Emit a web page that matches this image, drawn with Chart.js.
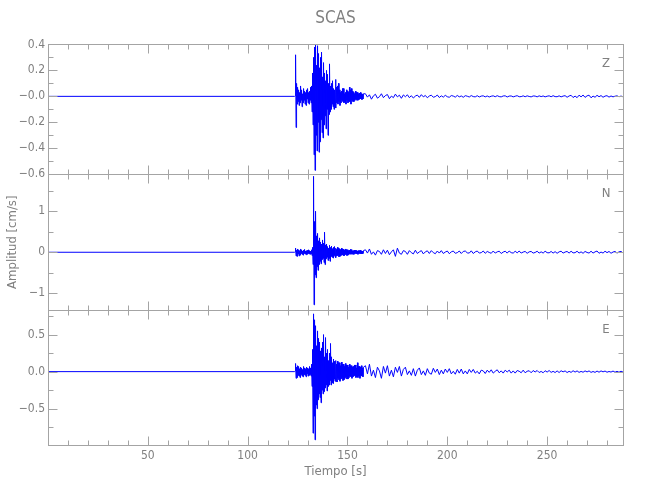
<!DOCTYPE html>
<html>
<head>
<meta charset="utf-8">
<title>SCAS</title>
<script src="https://cdn.jsdelivr.net/npm/chart.js@4.4.1/dist/chart.umd.min.js"></script>
<style>
  html, body { margin: 0; padding: 0; background: #fff; }
</style>
</head>
<body>
<canvas id="seis" width="650" height="500"></canvas>
<script>
// axis ticks and labels
var xTicks = [50, 100, 150, 200, 250];
var zTicks = [-0.6, -0.4, -0.2, 0, 0.2, 0.4];
var zLabels = ['\u22120.6', '\u22120.4', '\u22120.2', '\u22120.0', '0.2', '0.4'];
var nTicks = [-1, 0, 1];
var nLabels = ['\u22121', '0', '1'];
var eTicks = [-0.5, 0, 0.5];
var eLabels = ['\u22120.5', '0.0', '0.5'];

// samples: head every 0.25 s from 123.5 s (one row per second),
// tail every 1 s from 159 s
var headStart = 123.5, headStep = 0.25;
var tailStart = 159, tailStep = 1;

var zHead = [
  0, 0.004,
  0.32, -0.24, 0.10, -0.06,
  0.07, -0.04, 0.05, -0.07,
  0.03, -0.05, 0.08, -0.03,
  0.05, -0.08, 0.02, -0.05,
  0.06, -0.03, 0.04, -0.06,
  0.03, -0.07, 0.05, -0.02,
  0.06, -0.05, 0.03, -0.06,
  0.04, -0.03, 0.07, -0.05,
  0.08, -0.12, 0.18, -0.22,
  0.30, -0.45, 0.38, -0.57,
  0.40, -0.30, 0.24, -0.42,
  0.39, -0.20, 0.33, -0.43,
  0.22, -0.35, 0.30, -0.18,
  0.34, -0.28, 0.15, -0.32,
  0.26, -0.22, 0.18, -0.15,
  0.12, -0.25, 0.20, -0.10,
  0.17, -0.30, 0.10, -0.14,
  0.25, -0.12, 0.08, -0.10,
  0.10, -0.06, 0.12, -0.08,
  0.06, -0.10, 0.05, -0.07,
  0.13, -0.09, 0.07, -0.05,
  0.08, -0.06, 0.10, -0.04,
  0.05, -0.07, 0.03, -0.05,
  0.04, -0.03, 0.06, -0.04,
  0.06, -0.05, 0.02, -0.04,
  0.03, -0.06, 0.05, -0.03,
  0.04, -0.05, 0.03, -0.04,
  0.07, -0.04, 0.05, -0.06,
  0.06, -0.03, 0.04, -0.04,
  0.03, -0.04, 0.02, -0.03,
  0.04, -0.02, 0.03, -0.03,
  0.03, -0.03, 0.02, -0.025,
  0.025, -0.02, 0.03, -0.02,
  0.02, -0.025, 0.015, -0.02,
  0.02
];
var zTail = [
  0.02, -0.006, 0.012, -0.022, 0.004, 0.016, -0.014, -0.003, 0.02, -0.01,
  0.006, 0.014, -0.018, 0.002, -0.01, 0.017, -0.004, 0.009, -0.015, 0.011,
  -0.003, 0.012, -0.01, 0.005, -0.013, 0.002, 0.01, -0.008, 0.013, -0.004,
  0.007, -0.011, 0.003, 0.009, -0.007, -0.002, 0.01, -0.009, 0.004, -0.006,
  0.008, -0.003, -0.007, 0.006, 0.002, -0.006, 0.007, -0.004, 0.003, -0.007,
  0.005, 0.001, -0.005, 0.006, -0.002, -0.004, 0.005, -0.005, 0.002, 0.004,
  -0.004, 0.003, -0.005, 0.001, 0.004, -0.003, 0.005, -0.002, -0.004, 0.003,
  0.004, -0.005, 0.002, 0.003, -0.004, 0.001, 0.005, -0.003, -0.002, 0.004,
  -0.003, 0.004, -0.001, -0.004, 0.003, 0.002, -0.004, 0.004, -0.002, 0.003,
  -0.004, 0.001, 0.004, -0.003, 0.005, -0.002, -0.003, 0.004, -0.004, 0.002,
  0.005, -0.007, 0.003, 0.008, -0.009, 0.002, -0.01, 0.009, -0.004, 0.01,
  -0.008, 0.004, 0.009, -0.011, 0.002, -0.007, 0.008, -0.003, 0.006, -0.007,
  0.002, 0.005, -0.006, 0.003, -0.004, 0.001, 0.004, -0.003, 0.002, -0.003
];

var nHead = [
  0, 0.01,
  0.10, -0.09, 0.05, -0.10,
  0.08, -0.04, 0.06, -0.09,
  0.04, -0.07, 0.08, -0.03,
  0.06, -0.05, 0.03, -0.07,
  0.05, -0.03, 0.07, -0.04,
  0.03, -0.06, 0.04, -0.05,
  0.05, -0.03, 0.06, -0.04,
  0.04, -0.05, 0.03, -0.04,
  0.06, -0.08, 0.12, -0.30,
  1.85, -1.28, 0.75, -0.55,
  1.00, -0.62, 0.40, -0.35,
  0.46, -0.44, 0.28, -0.30,
  0.35, -0.22, 0.25, -0.28,
  0.20, -0.18, 0.30, -0.15,
  0.22, -0.25, 0.49, -0.30,
  0.18, -0.16, 0.20, -0.12,
  0.14, -0.20, 0.10, -0.15,
  0.17, -0.22, 0.12, -0.10,
  0.15, -0.12, 0.09, -0.14,
  0.12, -0.08, 0.14, -0.10,
  0.10, -0.13, 0.07, -0.09,
  0.12, -0.07, 0.10, -0.11,
  0.08, -0.10, 0.06, -0.08,
  0.10, -0.06, 0.08, -0.07,
  0.07, -0.09, 0.05, -0.06,
  0.08, -0.05, 0.06, -0.08,
  0.06, -0.07, 0.04, -0.05,
  0.05, -0.04, 0.07, -0.05,
  0.06, -0.04, 0.03, -0.05,
  0.04, -0.05, 0.05, -0.03,
  0.05, -0.03, 0.04, -0.04,
  0.03, -0.05, 0.04, -0.03,
  0.04, -0.03, 0.05, -0.04,
  0.03, -0.04, 0.03, -0.03,
  0.04
];
var nTail = [
  0.06, -0.02, 0.08, -0.05, 0.01, -0.07, 0.04, 0.02, -0.05, 0.06,
  -0.03, 0.05, -0.06, 0.01, 0.06, -0.10, 0.10, -0.02, -0.05, 0.04,
  0.02, -0.05, 0.04, -0.01, -0.04, 0.05, -0.03, 0.01, 0.04, -0.04,
  0.01, 0.035, -0.03, 0.04, -0.01, -0.035, 0.03, -0.02, 0.04, -0.03,
  0.005, 0.03, -0.035, 0.01, 0.03, -0.025, -0.01, 0.03, -0.03, 0.02,
  0.03, -0.015, -0.02, 0.035, -0.03, 0.01, 0.03, -0.02, -0.01, 0.03,
  -0.025, 0.02, -0.005, -0.025, 0.03, -0.02, 0.01, 0.025, -0.03, 0.005,
  0.025, -0.02, 0.03, -0.01, -0.02, 0.025, -0.015, 0.03, -0.02, 0.005,
  0.02, -0.025, 0.01, 0.02, -0.02, -0.005, 0.025, -0.02, 0.01, -0.02,
  0.025, -0.01, -0.015, 0.02, -0.02, 0.015, -0.025, 0.01, 0.025, -0.02,
  0.005, 0.02, -0.02, 0.025, -0.015, -0.01, 0.025, -0.02, 0.01, -0.025,
  0.02, -0.005, -0.02, 0.025, -0.02, 0.01, 0.03, -0.025, 0.005, -0.02,
  0.025, -0.01, 0.02, -0.025, 0.005, 0.02, -0.02, 0.01, 0.02, -0.015
];

var eHead = [
  0, 0.01,
  0.11, -0.09, 0.06, -0.08,
  0.08, -0.05, 0.07, -0.06,
  0.04, -0.08, 0.06, -0.04,
  0.05, -0.06, 0.03, -0.07,
  0.07, -0.04, 0.05, -0.05,
  0.04, -0.07, 0.06, -0.03,
  0.05, -0.06, 0.04, -0.05,
  0.07, -0.04, 0.05, -0.06,
  0.10, -0.20, 0.30, -0.83,
  0.78, -0.60, 0.70, -0.92,
  0.62, -0.45, 0.35, -0.50,
  0.55, -0.38, 0.45, -0.30,
  0.40, -0.35, 0.28, -0.42,
  0.32, -0.25, 0.40, -0.30,
  0.50, -0.27, 0.20, -0.22,
  0.46, -0.18, 0.25, -0.26,
  0.30, -0.20, 0.15, -0.18,
  0.25, -0.12, 0.38, -0.18,
  0.20, -0.15, 0.12, -0.16,
  0.17, -0.10, 0.14, -0.13,
  0.15, -0.12, 0.10, -0.14,
  0.14, -0.09, 0.12, -0.11,
  0.12, -0.13, 0.08, -0.10,
  0.13, -0.08, 0.10, -0.12,
  0.10, -0.11, 0.07, -0.09,
  0.11, -0.07, 0.09, -0.10,
  0.09, -0.10, 0.06, -0.08,
  0.10, -0.06, 0.08, -0.07,
  0.08, -0.09, 0.06, -0.07,
  0.07, -0.06, 0.09, -0.05,
  0.09, -0.08, 0.05, -0.07,
  0.12, -0.08, 0.07, -0.06,
  0.07, -0.09, 0.06, -0.05,
  0.08, -0.06, 0.05, -0.07,
  0.06
];
var eTail = [
  0.08, -0.03, 0.10, -0.06, 0.02, -0.08, 0.06, 0.01, -0.09, 0.07,
  -0.02, 0.08, -0.06, 0.02, -0.07, 0.06, -0.01, 0.07, -0.06, 0.03,
  0.06, -0.04, 0.01, -0.05, 0.04, -0.06, 0.02, 0.05, -0.04, 0.01,
  -0.05, 0.04, -0.02, -0.035, 0.045, -0.01, 0.035, -0.04, 0.02, -0.03,
  0.035, -0.01, 0.04, -0.03, 0.005, -0.035, 0.03, -0.02, 0.035, -0.03,
  0.01, -0.03, 0.03, -0.01, 0.03, -0.02, 0.005, -0.03, 0.02, 0.01,
  -0.025, 0.02, -0.01, 0.025, -0.02, 0.005, 0.025, -0.015, 0.01, -0.02,
  0.02, -0.005, 0.02, -0.02, 0.01, -0.02, 0.015, 0.005, -0.015, 0.02,
  -0.015, 0.005, 0.012, -0.015, 0.015, -0.005, 0.015, -0.012, 0.003, -0.015,
  0.012, -0.006, 0.015, -0.01, 0.004, -0.012, 0.01, -0.012, 0.012, -0.003,
  0.01, -0.012, 0.004, -0.01, 0.012, -0.006, 0.01, -0.01, 0.003, -0.008,
  0.01, -0.004, 0.01, -0.01, 0.002, -0.01, 0.008, -0.008, 0.01, -0.003,
  0.008, -0.008, 0.002, -0.006, 0.008, -0.008, 0.004, -0.008, 0.006, -0.006
];

var fontFamily = "'Liberation Sans Narrow', 'DejaVu Sans Condensed', sans-serif";
var textGray = '#808080';
var frameGray = '#a4a4a4';

// quiet record before the P onset, then the sampled coda
function trace(head, tail) {
  var pts = [{ x: 0, y: 0 }];
  head.forEach(function(v, i) { pts.push({ x: headStart + i * headStep, y: v }); });
  tail.forEach(function(v, i) { pts.push({ x: tailStart + i * tailStep, y: v }); });
  return pts;
}

// one entry per component panel, top to bottom
var panels = [
  { id: 'yZ', letter: 'Z', minor: 0.1, major: 0.2 },
  { id: 'yN', letter: 'N', minor: 0.5, major: 1 },
  { id: 'yE', letter: 'E', minor: 0.25, major: 0.5 }
];

function yAxis(weight, min, max, ticks, labels, withTitle) {
  return {
    type: 'linear',
    position: 'left',
    stack: 'seis',
    stackWeight: weight,
    min: min,
    max: max,
    afterBuildTicks: function(s) { s.ticks = ticks.map(function(v) { return { value: v }; }); },
    afterFit: function(s) { s.width = 48; },
    grid: { display: false, drawTicks: false },
    border: { display: false },
    ticks: {
      autoSkip: false,
      color: textGray,
      padding: 3,
      font: { family: fontFamily, size: 12 },
      callback: function(v, i) { return labels[i]; }
    },
    title: {
      display: withTitle,
      text: 'Amplitud [cm/s]',
      color: textGray,
      font: { family: fontFamily, size: 13 },
      padding: { top: 5, bottom: 0 }
    }
  };
}

// frame, inward tick marks and component letters
var framePlugin = {
  id: 'frame',
  afterDraw: function(chart) {
    var ctx = chart.ctx;
    var xs = chart.scales.x;
    var left = chart.chartArea.left, right = chart.chartArea.right;
    ctx.save();
    ctx.strokeStyle = frameGray;
    ctx.lineWidth = 1;
    panels.forEach(function(p) {
      var s = chart.scales[p.id];
      var top = Math.round(s.top) + 0.5, bottom = Math.round(s.bottom) + 0.5;
      var l = Math.round(left) + 0.5, r = Math.round(right) + 0.5;
      ctx.strokeRect(l, top, r - l, bottom - top);
      ctx.beginPath();
      for (var t = 10; t < xs.max; t += 10) {
        var px = Math.round(xs.getPixelForValue(t)) + 0.5;
        var len = (t % 50 === 0) ? 9 : 5;
        ctx.moveTo(px, top); ctx.lineTo(px, top + len);
        ctx.moveTo(px, bottom); ctx.lineTo(px, bottom - len);
      }
      var k0 = Math.ceil(s.min / p.minor - 1e-6), k1 = Math.floor(s.max / p.minor + 1e-6);
      for (var k = k0; k <= k1; k++) {
        var v = k * p.minor;
        var py = Math.round(s.getPixelForValue(v)) + 0.5;
        var ratio = v / p.major;
        var len2 = Math.abs(ratio - Math.round(ratio)) < 1e-6 ? 9 : 5;
        ctx.moveTo(l, py); ctx.lineTo(l + len2, py);
        ctx.moveTo(r, py); ctx.lineTo(r - len2, py);
      }
      ctx.stroke();
      ctx.fillStyle = textGray;
      ctx.font = '13px ' + fontFamily;
      ctx.textAlign = 'center';
      ctx.textBaseline = 'middle';
      ctx.fillText(p.letter, 606, s.top + 19);
    });
    ctx.restore();
  }
};

var ctx = document.getElementById('seis').getContext('2d');
var chart = new Chart(ctx, {
  type: 'line',
  data: {
    datasets: [
      { label: 'Z', data: trace(zHead, zTail), yAxisID: 'yZ' },
      { label: 'N', data: trace(nHead, nTail), yAxisID: 'yN' },
      { label: 'E', data: trace(eHead, eTail), yAxisID: 'yE' }
    ]
  },
  options: {
    responsive: false,
    animation: false,
    devicePixelRatio: 1,
    layout: { padding: { left: 0, right: 27, top: 0, bottom: 0 } },
    elements: {
      line: { borderColor: '#0000ff', borderWidth: 1, tension: 0 },
      point: { radius: 0 }
    },
    plugins: {
      legend: { display: false },
      tooltip: { enabled: false },
      title: {
        display: true,
        fullSize: false,
        text: 'SCAS',
        color: textGray,
        font: { family: fontFamily, size: 17, weight: 'normal' },
        padding: { top: 8, bottom: 16 }
      }
    },
    scales: {
      x: {
        type: 'linear',
        position: 'bottom',
        min: 0,
        max: 288,
        afterBuildTicks: function(s) { s.ticks = xTicks.map(function(v) { return { value: v }; }); },
        afterFit: function(s) { s.height = 55; },
        grid: { display: false, drawTicks: false },
        border: { display: false },
        ticks: {
          color: textGray,
          padding: 4,
          maxRotation: 0,
          font: { family: fontFamily, size: 12 },
          callback: function(v) { return String(v); }
        },
        title: {
          display: true,
          text: 'Tiempo [s]',
          color: textGray,
          font: { family: fontFamily, size: 13 },
          padding: { top: 0, bottom: 21 }
        }
      },
      // later-defined left axes are stacked on top
      yE: yAxis(135, -0.99, 0.83, eTicks, eLabels, false),
      yN: yAxis(136, -1.41, 1.9, nTicks, nLabels, true),
      yZ: yAxis(130, -0.6, 0.4, zTicks, zLabels, false)
    }
  },
  plugins: [framePlugin]
});
</script>
</body>
</html>
